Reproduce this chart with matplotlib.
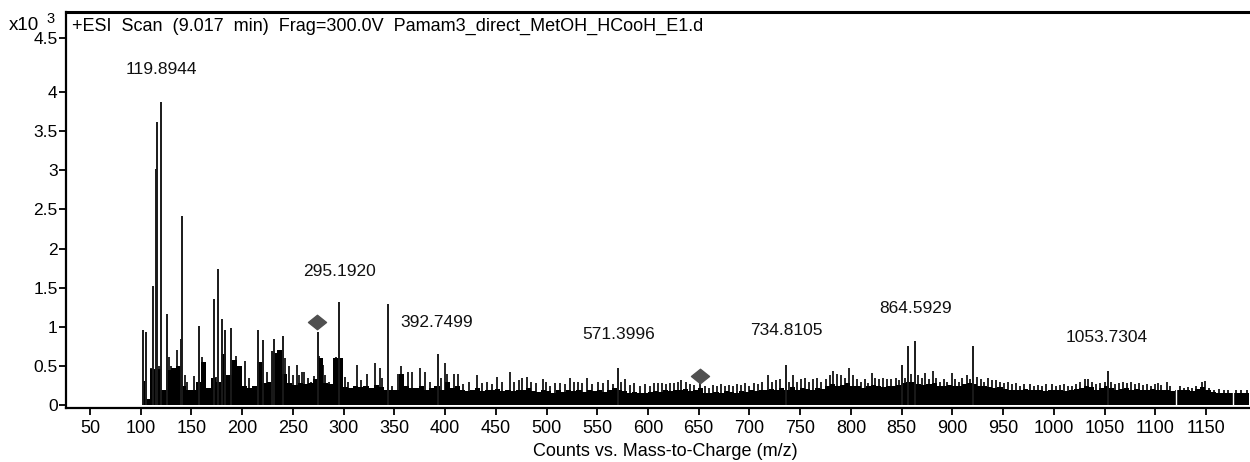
import matplotlib
matplotlib.use("Agg")
import matplotlib.pyplot as plt
from matplotlib.path import Path

# intensities in counts x10^3
major_mz = [102, 105, 112.4, 114.7, 116.3, 119.9, 126.3, 139.2, 140.3, 157.7,
            172.5, 176.5, 179.8, 183.0, 188.6, 215.3, 220.8, 229.7, 231.7,
            239.9, 274.4, 295.1, 344.0, 392.7, 570.1, 735.6, 850.0, 856.6,
            862.9, 920.7, 1053.1]
major_int = [0.96, 0.94, 1.52, 3.02, 3.62, 3.87, 1.16, 0.85, 2.41, 1.01,
             1.35, 1.74, 1.10, 0.96, 0.98, 0.96, 0.83, 0.69, 0.85,
             0.89, 0.94, 1.32, 1.29, 0.66, 0.48, 0.52, 0.52, 0.76,
             0.82, 0.76, 0.44]

# smaller sticks sticking out of the noise
spike_mz = [103.5, 110, 118, 128, 130, 135.4, 143.6, 146, 152.8, 160, 162, 174,
            190, 193.9, 196, 202.8, 207, 224, 235.5, 242, 246.5, 250, 253.7, 256,
            258.6, 261, 265, 268, 271.1, 276, 280, 282, 286, 292, 298, 301, 304,
            313, 316.8, 322.7, 331, 335.4, 338, 348, 354, 356.5, 363.8, 367, 375.3,
            380, 385, 396, 400.2, 402, 408.8, 413, 418, 424, 431, 436, 441, 446,
            450.8, 456, 464, 468, 473, 476, 480.4, 485, 490, 496.8, 499, 503.4,
            508, 513, 518, 523, 527, 531, 535, 539.6, 545, 550.8, 556, 560.6, 565,
            573, 577.3, 582, 586, 592, 597, 602, 606, 610, 614, 618, 622, 626, 630,
            633, 637, 641, 645, 651.3, 656, 660, 664, 668, 672, 676, 680, 684, 688,
            692, 696, 700, 704, 708, 712, 718.6, 722, 726, 730, 739, 743, 747, 751,
            755, 759, 763, 767, 771, 775, 779, 782.6, 786, 790, 794, 798.5, 802,
            806, 810, 814, 817, 820.5, 824, 828, 832, 836, 840, 844, 847, 853, 859,
            866, 870, 873, 877, 880.6, 884, 888, 892, 895, 899.4, 903, 907, 910,
            914.1, 917, 924, 928, 931, 935.4, 939, 943, 947, 951, 955, 959, 963,
            967, 971, 976.5, 980, 984, 988, 992, 997.9, 1002, 1006, 1010, 1014,
            1018, 1022, 1026, 1030.8, 1034, 1038, 1042, 1046, 1050, 1056, 1060,
            1064, 1068, 1072, 1076, 1080, 1084, 1088, 1092, 1096, 1100, 1102.7,
            1106, 1111.3, 1115, 1124.4, 1128, 1132, 1136, 1140, 1145.8, 1149, 1153,
            1158, 1163, 1168, 1172, 1180, 1185, 1190]
spike_int = [0.31, 0.48, 0.5, 0.61, 0.5, 0.71, 0.39, 0.3, 0.37, 0.61, 0.55, 0.36,
             0.38, 0.63, 0.5, 0.56, 0.35, 0.42, 0.6, 0.6, 0.5, 0.38, 0.52, 0.38,
             0.43, 0.43, 0.35, 0.3, 0.37, 0.63, 0.52, 0.39, 0.3, 0.62, 0.55, 0.36, 0.3,
             0.52, 0.32, 0.4, 0.54, 0.48, 0.35, 0.25, 0.4, 0.5, 0.42, 0.42, 0.48,
             0.42, 0.3, 0.35, 0.54, 0.4, 0.4, 0.4, 0.27, 0.3, 0.38, 0.28, 0.3, 0.27,
             0.36, 0.3, 0.42, 0.3, 0.32, 0.35, 0.36, 0.3, 0.28, 0.33, 0.3, 0.25,
             0.28, 0.29, 0.27, 0.35, 0.3, 0.3, 0.28, 0.35, 0.27, 0.3, 0.28, 0.32, 0.27,
             0.3, 0.33, 0.26, 0.28, 0.25, 0.27, 0.24, 0.29, 0.28, 0.29, 0.27, 0.29, 0.28, 0.3,
             0.32, 0.3, 0.27, 0.26, 0.3, 0.25, 0.22, 0.26, 0.24, 0.27, 0.25, 0.26, 0.24, 0.27,
             0.26, 0.28, 0.25, 0.29, 0.27, 0.3, 0.39, 0.3, 0.32, 0.34, 0.3, 0.39, 0.3, 0.33,
             0.35, 0.3, 0.34, 0.35, 0.3, 0.33, 0.38, 0.44, 0.4, 0.38, 0.35, 0.48, 0.38,
             0.33, 0.3, 0.33, 0.28, 0.41, 0.35, 0.33, 0.35, 0.33, 0.33, 0.35, 0.32, 0.35, 0.4,
             0.38, 0.35, 0.41, 0.33, 0.44, 0.35, 0.3, 0.33, 0.3, 0.41, 0.33, 0.3, 0.35,
             0.39, 0.33, 0.36, 0.33, 0.3, 0.35, 0.32, 0.32, 0.3, 0.28, 0.3, 0.27, 0.28,
             0.25, 0.27, 0.27, 0.25, 0.26, 0.24, 0.27, 0.27, 0.24, 0.26, 0.27, 0.24,
             0.25, 0.27, 0.3, 0.33, 0.33, 0.3, 0.27, 0.28, 0.3, 0.3, 0.27,
             0.28, 0.3, 0.28, 0.3, 0.27, 0.28, 0.26, 0.27, 0.25, 0.27, 0.29,
             0.26, 0.3, 0.25, 0.25, 0.22, 0.23, 0.22, 0.25, 0.3, 0.31, 0.22,
             0.2, 0.21, 0.19, 0.2, 0.19, 0.2, 0.19]

# dense noise floor, one value per 5 m/z starting at 102
floor_int = [0.31, 0.08, 0.46, 0.46, 0.2, 0.45, 0.48, 0.5, 0.25, 0.2,
             0.2, 0.3, 0.55, 0.22, 0.35, 0.3, 0.65, 0.38, 0.58, 0.5,
             0.25, 0.22, 0.25, 0.55, 0.28, 0.3, 0.67, 0.71, 0.4, 0.28,
             0.26, 0.28, 0.27, 0.28, 0.33, 0.6, 0.28, 0.27, 0.6, 0.6,
             0.23, 0.22, 0.25, 0.23, 0.24, 0.22, 0.26, 0.23, 0.2, 0.19,
             0.19, 0.4, 0.25, 0.22, 0.22, 0.24, 0.2, 0.22, 0.24, 0.2,
             0.3, 0.22, 0.24, 0.2, 0.18, 0.2, 0.22, 0.18, 0.2, 0.19,
             0.21, 0.18, 0.2, 0.18, 0.19, 0.2, 0.22, 0.18, 0.17, 0.2,
             0.18, 0.16, 0.19, 0.17, 0.2, 0.18, 0.2, 0.17, 0.19, 0.18,
             0.2, 0.17, 0.2, 0.22, 0.2, 0.18, 0.16, 0.17, 0.15, 0.16,
             0.17, 0.18, 0.17, 0.19, 0.18, 0.2, 0.19, 0.21, 0.18, 0.2,
             0.22, 0.16, 0.15, 0.17, 0.16, 0.18, 0.17, 0.16, 0.18, 0.17,
             0.19, 0.18, 0.2, 0.19, 0.21, 0.2, 0.22, 0.2, 0.23, 0.2,
             0.22, 0.21, 0.2, 0.22, 0.21, 0.25, 0.27, 0.25, 0.26, 0.28,
             0.25, 0.24, 0.22, 0.25, 0.26, 0.24, 0.23, 0.25, 0.24, 0.26,
             0.28, 0.3, 0.3, 0.27, 0.26, 0.27, 0.28, 0.25, 0.24, 0.26,
             0.25, 0.24, 0.27, 0.28, 0.27, 0.25, 0.24, 0.23, 0.22, 0.23,
             0.21, 0.2, 0.19, 0.2, 0.21, 0.2, 0.19, 0.2, 0.18, 0.2,
             0.19, 0.2, 0.18, 0.19, 0.21, 0.22, 0.24, 0.23, 0.2, 0.22,
             0.24, 0.22, 0.2, 0.21, 0.22, 0.2, 0.21, 0.19, 0.2, 0.21,
             0.2, 0.19, 0.2, 0.18, 0.2, 0.19, 0.2, 0.18, 0.21, 0.23,
             0.2, 0.17, 0.16, 0.15, 0.16, 0.15, 0.16, 0.15, 0.16]
floor_mz = [102 + 5 * i for i in range(len(floor_int))]

gap_mz = [1120.5, 1176.4]

diamond_mz = [273.7, 651.3]
diamond_int = [1.06, 0.37]

label_text = ["119.8944", "295.1920", "392.7499", "571.3996",
              "734.8105", "864.5929", "1053.7304"]
label_mz = [120.0, 295.9, 392.0, 571.4, 736.0, 864.0, 1052.4]
label_int = [4.28, 1.71, 1.06, 0.90, 0.95, 1.24, 0.86]

TICK_MZ = list(range(50, 1200, 50))
# the top tick sits higher than the even spacing in the original
TICK_POS = [0, 0.5, 1, 1.5, 2, 2.5, 3, 3.5, 4, 4.69]
TICK_LABELS = ["0", "0.5", "1", "1.5", "2", "2.5", "3", "3.5", "4", "4.5"]

plt.rcParams["font.family"] = ["Liberation Sans", "DejaVu Sans"]

figure = plt.figure(figsize=(12.5, 4.62), dpi=100)
axes = figure.add_axes((66 / 1250, 1 - 407.6 / 462, 1184 / 1250, 395.6 / 462))

axes.fill_between(floor_mz, floor_int, step="mid", color="black", lw=0)
axes.vlines(spike_mz, 0, spike_int, color="black", lw=1.2)
axes.vlines(major_mz, 0, major_int, color="#1a1a1a", lw=1.4)
axes.vlines(gap_mz, 0, 0.45, color="white", lw=1.0)

diamond = Path([(-1, 0), (0, 0.8), (1, 0), (0, -0.8), (-1, 0)],
               [Path.MOVETO, Path.LINETO, Path.LINETO, Path.LINETO, Path.CLOSEPOLY])
axes.plot(diamond_mz, diamond_int, ls="none", marker=diamond, ms=13,
          color="#505050", mec="#505050")

for text, x, y in zip(label_text, label_mz, label_int):
    axes.text(x, y, text, ha="center", va="center", fontsize=12.5, color="#111111")

axes.set_xlim(26.3, 1193.4)
axes.set_ylim(-0.03, 5.02)
axes.set_xticks(TICK_MZ)
axes.set_xticklabels([str(t) for t in TICK_MZ], fontsize=13)
axes.set_yticks(TICK_POS)
axes.set_yticklabels(TICK_LABELS, fontsize=12.5)
axes.tick_params(axis="x", direction="out", length=5, width=1.3, pad=4)
axes.tick_params(axis="y", direction="out", length=5, width=1.3, pad=1)

axes.spines["right"].set_visible(False)
axes.spines["top"].set_linewidth(2.2)
axes.spines["left"].set_linewidth(1.6)
axes.spines["bottom"].set_linewidth(1.6)

figure.text(72 / 1250, 1 - 26 / 462,
            "+ESI  Scan  (9.017  min)  Frag=300.0V  Pamam3_direct_MetOH_HCooH_E1.d",
            ha="left", va="center", fontsize=13)
figure.text(9 / 1250, 1 - 25 / 462, "x10", ha="left", va="center", fontsize=13.5)
figure.text(46 / 1250, 1 - 19 / 462, "3", ha="left", va="center", fontsize=10.5)
figure.text(665 / 1250, 1 - 452 / 462, "Counts vs. Mass-to-Charge (m/z)",
            ha="center", va="center", fontsize=13)

figure.savefig("out.png", dpi=100)
